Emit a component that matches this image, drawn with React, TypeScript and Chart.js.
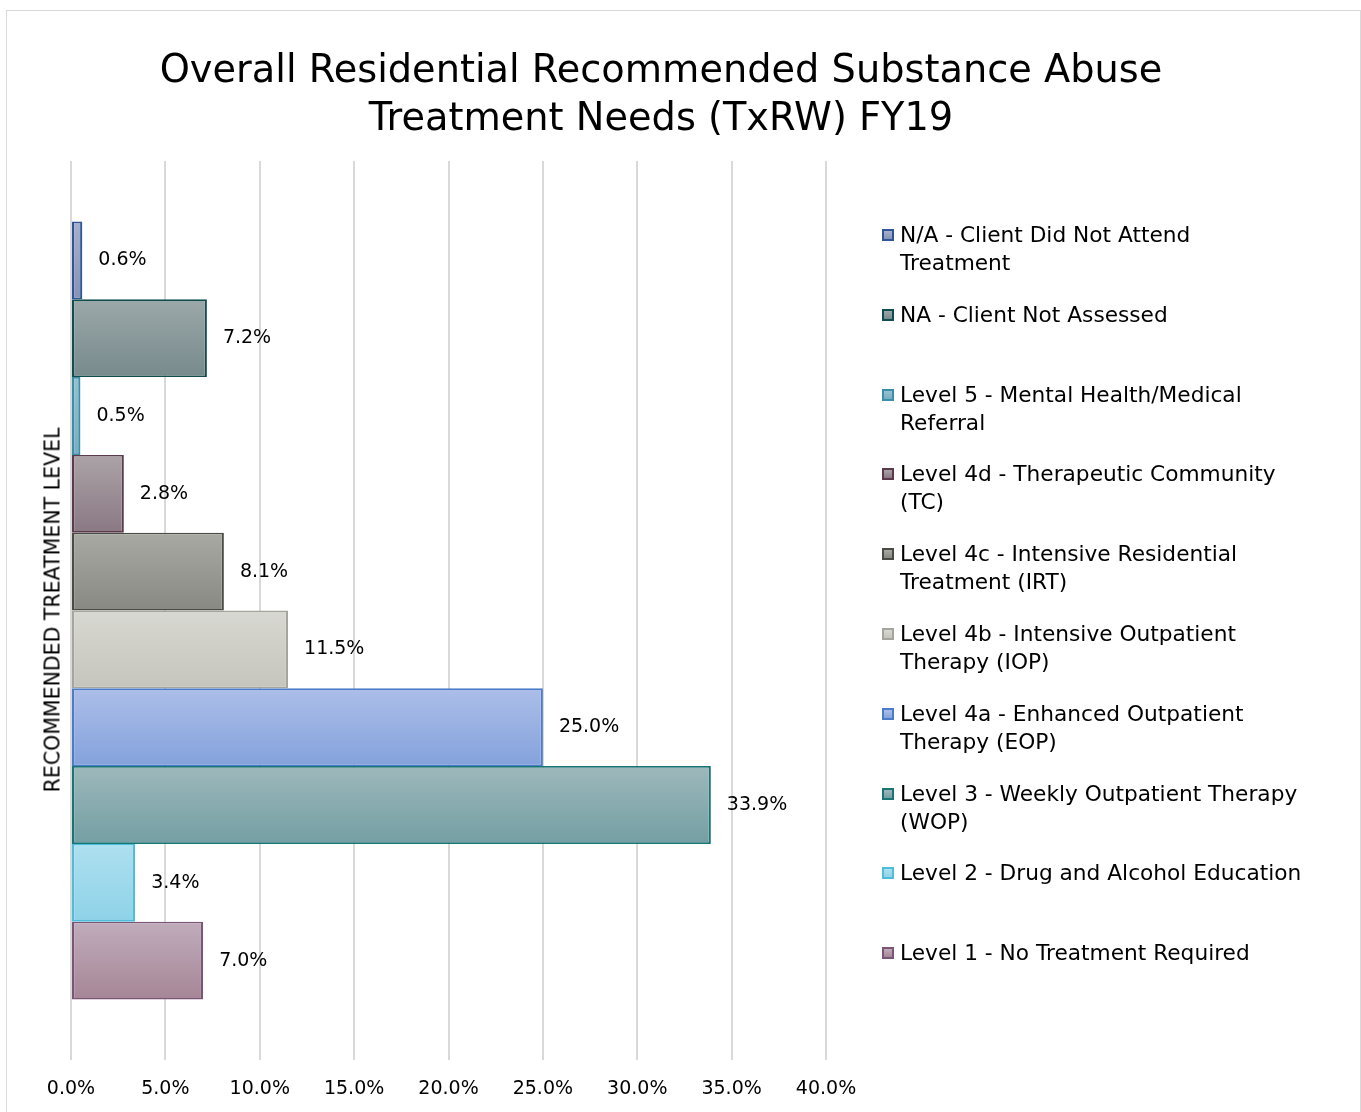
import React, { useEffect, useRef } from 'react';
import { Chart, registerables } from 'chart.js';

Chart.register(...registerables);

const TITLE_LINES = ['Overall Residential Recommended Substance Abuse', 'Treatment Needs (TxRW) FY19'];
const Y_TITLE = 'RECOMMENDED TREATMENT LEVEL';
const categories = ['FY19'];

const seriesNames = [
  'N/A - Client Did Not Attend Treatment',
  'NA - Client Not Assessed',
  'Level 5 - Mental Health/Medical Referral',
  'Level 4d - Therapeutic Community (TC)',
  'Level 4c - Intensive Residential Treatment (IRT)',
  'Level 4b - Intensive Outpatient Therapy (IOP)',
  'Level 4a - Enhanced Outpatient Therapy (EOP)',
  'Level 3 - Weekly Outpatient Therapy (WOP)',
  'Level 2 - Drug and Alcohol Education',
  'Level 1 - No Treatment Required',
];

const seriesValues = [0.6, 7.2, 0.5, 2.8, 8.1, 11.5, 25.0, 33.9, 3.4, 7.0];

// number of words on the first legend line (0 = no wrap)
const legendWrapAfter = [6, 0, 5, 5, 5, 5, 5, 6, 0, 0];

const xMin = 0;
const xMax = 40;
const xStep = 5;

const fillTop = ['#a7afcc', '#9ca8a9', '#95c0d1', '#aba3a7', '#a9a9a3', '#d8d8d2', '#acbee8', '#9db8bb', '#aee0f0', '#c0acbc'];
const fillBottom = ['#8693b5', '#778a8c', '#79adc2', '#8a7883', '#898983', '#c5c5bd', '#84a2dc', '#749fa3', '#8ed2e8', '#a68696'];
const borderColors = ['#2f5597', '#0f4d4f', '#3a8fa8', '#5a3a4c', '#4b4b45', '#a5a59d', '#4a7cc9', '#177576', '#4dbdd9', '#7b5576'];

const FONT = '"DejaVu Sans", Verdana, sans-serif';
const CAT_PCT = 0.8654;

function splitLegend(name: string, n: number): string[] {
  if (!n) return [name];
  const w = name.split(' ');
  return [w.slice(0, n).join(' '), w.slice(n).join(' ')];
}

export default function App() {
  const ref = useRef<HTMLCanvasElement>(null);

  useEffect(() => {
    const canvas = ref.current!;
    const n = seriesValues.length;

    const gradientFill = (i: number) => (c: any) => {
      const area = c.chart.chartArea;
      if (!area) return fillBottom[i];
      const H = area.bottom - area.top;
      const group = H * CAT_PCT;
      const bh = group / n;
      const y0 = area.top + (H - group) / 2 + i * bh;
      const g = c.chart.ctx.createLinearGradient(0, y0, 0, y0 + bh);
      g.addColorStop(0, fillTop[i]);
      g.addColorStop(1, fillBottom[i]);
      return g;
    };

    const labelPlugin = {
      id: 'valueLabels',
      afterDatasetsDraw(chart: any) {
        const ctx = chart.ctx;
        ctx.save();
        ctx.font = '19px ' + FONT;
        ctx.fillStyle = '#000';
        ctx.textAlign = 'left';
        ctx.textBaseline = 'middle';
        chart.data.datasets.forEach((ds: any, di: number) => {
          const meta = chart.getDatasetMeta(di);
          meta.data.forEach((el: any, j: number) => {
            const v = ds.data[j] as number;
            ctx.fillText(v.toFixed(1) + '%', el.x + 16, el.y);
          });
        });
        ctx.restore();
      },
    };

    const chart = new Chart(canvas, {
      type: 'bar',
      data: {
        labels: categories,
        datasets: seriesNames.map((name, i) => ({
          label: name,
          data: [seriesValues[i]],
          backgroundColor: gradientFill(i),
          borderColor: borderColors[i],
          borderWidth: { top: 1.6, bottom: 1.6, left: 2.2, right: 2.2 },
          borderSkipped: false,
          categoryPercentage: CAT_PCT,
          barPercentage: 1,
        })),
      },
      options: {
        indexAxis: 'y',
        animation: false,
        responsive: false,
        layout: { padding: { left: 64, right: 534, top: 150, bottom: 12 } },
        plugins: {
          legend: { display: false },
          title: { display: false },
          tooltip: { enabled: false },
        },
        scales: {
          x: {
            min: xMin,
            max: xMax,
            ticks: {
              stepSize: xStep,
              callback: (v: any) => Number(v).toFixed(1) + '%',
              font: { family: FONT, size: 19 },
              color: '#000',
              padding: 18,
              maxRotation: 0,
              autoSkip: false,
            },
            grid: { color: '#d9d9d9', lineWidth: 2, drawTicks: false },
            border: { display: false },
            afterFit: (s: any) => {
              s.height = 40;
            },
          },
          y: { display: false },
        },
      } as any,
      plugins: [labelPlugin],
    });
    return () => chart.destroy();
  }, []);

  return (
    <div
      style={{
        position: 'absolute',
        left: 6,
        top: 10,
        width: 1353,
        height: 1101,
        border: '1px solid #d9d9d9',
        borderBottom: 'none',
        background: '#fff',
        fontFamily: FONT,
        color: '#000',
        overflow: 'hidden',
      }}
    >
      <canvas ref={ref} width={1353} height={1101} style={{ position: 'absolute', left: 0, top: 0 }} />
      <div
        style={{
          position: 'absolute',
          left: 0,
          top: 34,
          width: 1308,
          textAlign: 'center',
          fontSize: 38.3,
          lineHeight: '48px',
        }}
      >
        {TITLE_LINES.map((t, i) => (
          <div key={i}>{t}</div>
        ))}
      </div>
      <div
        style={{
          position: 'absolute',
          left: 46,
          top: 599,
          transform: 'translate(-50%, -50%) rotate(-90deg)',
          fontSize: 20.5,
          lineHeight: '21px',
          whiteSpace: 'nowrap',
        }}
      >
        {Y_TITLE}
      </div>
      {seriesNames.map((name, i) => {
        const top = 210 + i * 79.8;
        return (
          <div key={name}>
            <div
              style={{
                position: 'absolute',
                left: 875,
                top: top + 8,
                width: 12,
                height: 12,
                boxSizing: 'border-box',
                border: `2px solid ${borderColors[i]}`,
                background: `linear-gradient(${fillTop[i]}, ${fillBottom[i]})`,
              }}
            />
            <div
              style={{
                position: 'absolute',
                left: 893,
                top,
                fontSize: 21.7,
                lineHeight: '28px',
                whiteSpace: 'nowrap',
              }}
            >
              {splitLegend(name, legendWrapAfter[i]).map((l, k) => (
                <div key={k}>{l}</div>
              ))}
            </div>
          </div>
        );
      })}
    </div>
  );
}
